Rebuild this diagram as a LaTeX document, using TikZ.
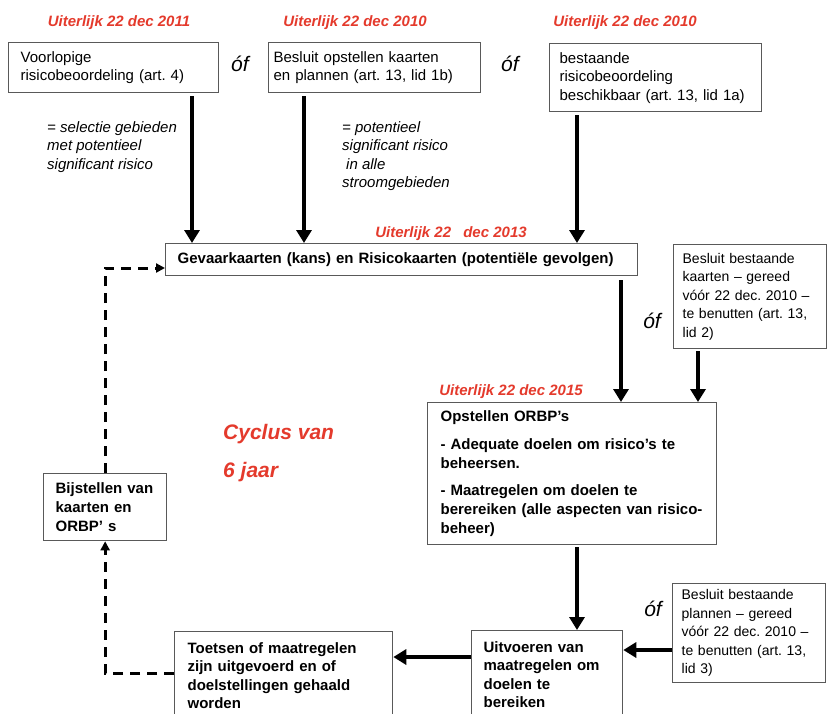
\documentclass[tikz,border=0pt]{standalone}
\usepackage{fontspec}
\setmainfont{Liberation Sans}
\usepackage{tikz}
\usetikzlibrary{arrows.meta, positioning}
\definecolor{deadlinered}{RGB}{228,58,44}
\frenchspacing
\tikzset{
  kbox/.style={draw=black!65, line width=1.3pt, fill=white, anchor=north west,
    align=left, inner xsep=12pt, inner ysep=0pt,
    font=\fontsize{15}{18.5}\selectfont},
  kboldbox/.style={kbox, font=\fontsize{15}{19}\selectfont\bfseries},
  sidebox/.style={kbox, inner xsep=9pt, text width=135pt,
    font=\fontsize{14}{18.5}\selectfont},
  deadline/.style={font=\fontsize{15}{18}\selectfont\bfseries\itshape,
    text=deadlinered, inner sep=0pt},
  annot/.style={font=\fontsize{15}{18.5}\selectfont\itshape, align=left,
    anchor=north west, inner sep=0pt},
  oflabel/.style={font=\fontsize{21}{21}\selectfont\itshape, inner sep=0pt},
  cyclus/.style={font=\fontsize{21}{38}\selectfont\bfseries\itshape,
    text=deadlinered, align=left, anchor=west, inner sep=0pt},
  arr/.style={-{Triangle[length=13pt,width=15pt]}, line width=4pt},
  darr/.style={-{Triangle[length=9pt,width=9pt]}, line width=3pt,
    dash pattern=on 10pt off 7pt},
}
\begin{document}
\begin{tikzpicture}[x=1pt, y=-1pt]
  \useasboundingbox (0,0) rectangle (827,713);
  \clip (0,0) rectangle (827,713);

  % Top row
  \node[kbox, text width=186pt, minimum height=50pt] (voorlopig) at (8,42)
    {Voorlopige\\risicobeoordeling (art. 4)};
  \node[kbox, inner xsep=5pt, text width=202pt, minimum height=50pt] (opstelbesluit) at (268,42)
    {Besluit opstellen kaarten\\en plannen (art. 13, lid 1b)};
  \node[kbox, inner xsep=10pt, text width=192pt, minimum height=68pt] (bestaand) at (549,43)
    {bestaande\\risicobeoordeling\\beschikbaar (art. 13, lid 1a)};

  % Maps
  \node[kboldbox, text width=448pt, minimum height=32pt] (gevaar) at (165,243)
    {Gevaarkaarten (kans) en Risicokaarten (potentiële gevolgen)};
  \node[sidebox, minimum height=104pt] (kaartbesluit) at (673,244)
    {Besluit bestaande\\kaarten – gereed\\vóór 22 dec. 2010 –\\te benutten (art. 13,\\lid 2)};

  % Plans
  \node[kboldbox, inner xsep=13pt, text width=263pt, minimum height=142pt] (orbp) at (427,402)
    {Opstellen ORBP’s\\[9pt]- Adequate doelen om risico’s te\\beheersen.\\[8pt]- Maatregelen om doelen te\\berereiken (alle aspecten van risico-\\beheer)};
  \node[kboldbox, text width=99pt, minimum height=67pt] (bijstel) at (43,473)
    {Bijstellen van\\kaarten en\\ORBP’ s};

  % Bottom row
  \node[kboldbox, inner xsep=13pt, text width=192pt, minimum height=88pt,
    font=\fontsize{15}{18.5}\selectfont\bfseries] (toetsen) at (174,631)
    {Toetsen of maatregelen\\zijn uitgevoerd en of\\doelstellingen gehaald\\worden};
  \node[kboldbox, text width=127pt, minimum height=88pt,
    font=\fontsize{15}{18.5}\selectfont\bfseries] (uitvoeren) at (471,630)
    {Uitvoeren van\\maatregelen om\\doelen te\\bereiken};
  \node[sidebox, minimum height=99pt] (planbesluit) at (672,583)
    {Besluit bestaande\\plannen – gereed\\vóór 22 dec. 2010 –\\te benutten (art. 13,\\lid 3)};

  % Deadlines
  \node[deadline] (dl2011) at (119,23) {Uiterlijk 22 dec 2011};
  \node[deadline] (dl2010a) at (355,23) {Uiterlijk 22 dec 2010};
  \node[deadline] (dl2010b) at (625,23) {Uiterlijk 22 dec 2010};
  \node[deadline] (dl2013) at (451,234) {Uiterlijk 22\hspace{8pt} dec 2013};
  \node[deadline] (dl2015) at (511,392) {Uiterlijk 22 dec 2015};

  % Notes and 'of'
  \node[annot] (selectie) at (47,121)
    {= selectie gebieden\\met potentieel\\significant risico};
  \node[annot] (potentieel) at (342,121)
    {= potentieel\\significant risico\\\hspace*{4pt}in alle\\stroomgebieden};
  \node[oflabel] (of1) at (240,64) {óf};
  \node[oflabel] (of2) at (510,64) {óf};
  \node[oflabel] (of3) at (652,321) {óf};
  \node[oflabel] (of4) at (653,609) {óf};
  \node[cyclus] (cyclus) at (223,453) {Cyclus van\\6 jaar};

  % Arrows
  \draw[arr, shorten <=3pt] (voorlopig.south -| 192,0) -- (192,0 |- gevaar.north);
  \draw[arr, shorten <=3pt] (opstelbesluit.south -| 304,0) -- (304,0 |- gevaar.north);
  \draw[arr, shorten <=3pt] (bestaand.south -| 577,0) -- (577,0 |- gevaar.north);
  \draw[arr, shorten <=4pt] (gevaar.south -| 621,0) -- (621,0 |- orbp.north);
  \draw[arr, shorten <=2pt] (kaartbesluit.south -| 698,0) -- (698,0 |- orbp.north);
  \draw[arr, shorten <=2pt] (orbp.south -| 577,0) -- (577,0 |- uitvoeren.north);
  \draw[arr] (planbesluit.west |- 0,650) -- (uitvoeren.east |- 0,650);
  \draw[arr] (uitvoeren.west |- 0,657) -- (toetsen.east |- 0,657);

  % Feedback loop
  \draw[darr] (toetsen.west |- 0,673) -| (bijstel.south);
  \draw[darr] (bijstel.north) |- (gevaar.west |- 0,268);
\end{tikzpicture}
\end{document}
